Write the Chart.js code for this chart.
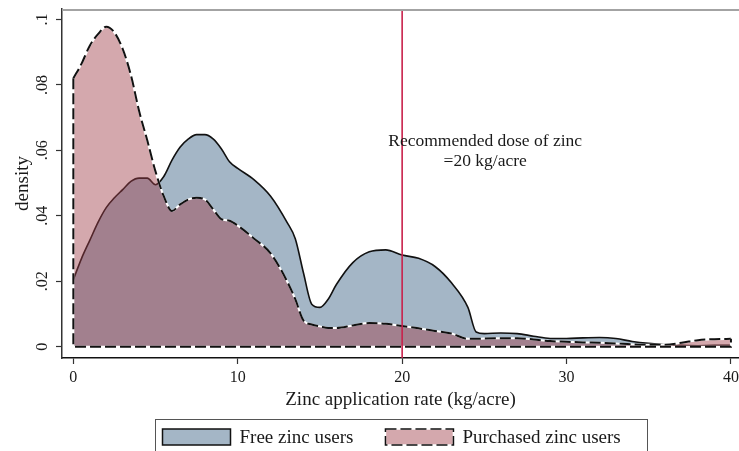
<!DOCTYPE html>
<html>
<head>
<meta charset="utf-8">
<script src="https://cdn.jsdelivr.net/npm/chart.js@4.4.1/dist/chart.umd.min.js"></script>
<style>
  html, body { margin: 0; padding: 0; background: #fff; }
</style>
</head>
<body>
<canvas id="densityChart" width="739" height="451"></canvas>
<script>
// zinc application rate (kg/acre) where the densities were read
const zincRate = [0, 0.5, 1, 1.5, 2, 2.5, 3, 3.5, 4, 4.5, 5, 5.5, 6, 6.5, 7, 7.5, 8, 8.5, 9, 9.5,
  10, 11, 12, 13, 13.5, 14, 14.5, 15, 15.5, 16, 17, 18, 19, 20, 21, 22, 23, 24, 24.5, 25,
  26, 27, 28, 29, 30, 31, 32, 33, 34, 35, 36, 37, 38, 39, 40];

const freeDensity = [0.0205, 0.027, 0.0325, 0.038, 0.0425, 0.0455, 0.048, 0.0505, 0.0515, 0.0515,
  0.0495, 0.052, 0.057, 0.061, 0.0635, 0.0648, 0.0648, 0.0635, 0.0605, 0.0565,
  0.0545, 0.051, 0.046, 0.038, 0.033, 0.0225, 0.013, 0.012, 0.0145, 0.019,
  0.0257, 0.029, 0.0296, 0.028, 0.027, 0.0245, 0.0195, 0.012, 0.0045, 0.004,
  0.0042, 0.004, 0.0032, 0.0025, 0.0025, 0.0027, 0.0028, 0.0025, 0.0016, 0.001,
  0.0006, 0.0004, 0.0003, 0.0004, 0.0004];

const purchasedDensity = [0.082, 0.0865, 0.092, 0.0955, 0.0978, 0.096, 0.091, 0.083, 0.072, 0.063,
  0.0535, 0.046, 0.0415, 0.0435, 0.045, 0.0455, 0.045, 0.042, 0.039, 0.0385,
  0.037, 0.033, 0.0285, 0.02, 0.0145, 0.008, 0.0068, 0.0062, 0.0057, 0.0057,
  0.0065, 0.0072, 0.007, 0.0063, 0.0056, 0.0048, 0.004, 0.0024, 0.0024, 0.0025,
  0.0026, 0.0026, 0.0022, 0.0017, 0.0015, 0.0013, 0.0012, 0.001, 0.0007, 0.0006,
  0.0006, 0.0012, 0.002, 0.0023, 0.0024];

const seriesNames = ['Free zinc users', 'Purchased zinc users'];
const xTicks = [0, 10, 20, 30, 40];
const yTicks = [0, 0.02, 0.04, 0.06, 0.08, 0.1];
const yTickLabels = ['0', '.02', '.04', '.06', '.08', '.1'];
const recommendedDose = 20;
const doseNote = ['Recommended dose of zinc', '=20 kg/acre'];

// axis ranges (plot region padding like Stata)
const xMin = -0.69, xMax = 40.49;
const yMin = -0.00346, yMax = 0.1032;

const serif = '"Liberation Serif", "Times New Roman", serif';
const blueFill = '#a4b6c6';
const pinkFill = 'rgba(160, 62, 74, 0.45)';
const doseColor = '#c8204b';

const toPoints = (ys) => zincRate.map((x, i) => ({ x: x, y: ys[i] }));
const last = zincRate.length - 1;
// left edge and baseline of the purchased density area
const purchasedEdge = [
  { x: zincRate[0], y: purchasedDensity[0] },
  { x: zincRate[0], y: 0 },
  { x: zincRate[last], y: 0 },
  { x: zincRate[last], y: purchasedDensity[last] }
];

// top border of the plot region
const frameTop = {
  id: 'frameTop',
  afterDraw(chart) {
    const { ctx, chartArea } = chart;
    ctx.save();
    ctx.strokeStyle = '#a3a3a3';
    ctx.lineWidth = 2;
    ctx.beginPath();
    ctx.moveTo(chartArea.left, chartArea.top + 1);
    ctx.lineTo(chartArea.right + 5, chartArea.top + 1);
    ctx.stroke();
    ctx.restore();
  }
};

// text next to the recommended dose line
const doseLabel = {
  id: 'doseLabel',
  afterDatasetsDraw(chart) {
    const { ctx, scales } = chart;
    const cx = scales.x.getPixelForValue(25.05);
    const y1 = scales.y.getPixelForValue(0.0627);
    ctx.save();
    ctx.fillStyle = '#1a1a1a';
    ctx.font = '17.5px ' + serif;
    ctx.textAlign = 'center';
    ctx.textBaseline = 'middle';
    ctx.fillText(doseNote[0], cx, y1);
    ctx.fillText(doseNote[1], cx, y1 + 20);
    ctx.restore();
  }
};

// boxed legend under the axis title
const legendBox = {
  id: 'legendBox',
  afterDraw(chart) {
    const { ctx, chartArea } = chart;
    const boxW = 68, boxH = 16, gap = 9, itemGap = 32;
    const frameW = 492;
    const frameL = Math.round((chartArea.left + chartArea.right) / 2 - frameW / 2) + 0.5;
    const frameTopY = 419.5;
    const midY = 437;
    ctx.save();
    ctx.strokeStyle = '#555';
    ctx.lineWidth = 1;
    ctx.strokeRect(frameL, frameTopY, frameW, 60);

    ctx.font = '19px ' + serif;
    ctx.textBaseline = 'middle';
    let x = frameL + 7;
    seriesNames.forEach((name, i) => {
      const top = midY - boxH / 2;
      ctx.fillStyle = i === 0 ? blueFill : pinkFill;
      ctx.fillRect(x, top, boxW, boxH);
      ctx.lineWidth = 1.5;
      if (i === 1) {
        ctx.strokeStyle = '#fff';
        ctx.setLineDash([]);
        ctx.strokeRect(x, top, boxW, boxH);
        ctx.setLineDash([11, 4]);
      }
      ctx.strokeStyle = '#111';
      ctx.strokeRect(x, top, boxW, boxH);
      ctx.setLineDash([]);
      ctx.fillStyle = '#1a1a1a';
      ctx.fillText(name, x + boxW + gap, midY + 1);
      x += boxW + gap + ctx.measureText(name).width + itemGap;
    });
    ctx.restore();
  }
};

const lineBase = { pointRadius: 0, pointHoverRadius: 0, cubicInterpolationMode: 'monotone' };

new Chart(document.getElementById('densityChart'), {
  type: 'line',
  data: {
    datasets: [
      Object.assign({}, lineBase, {
        label: seriesNames[0],
        data: toPoints(freeDensity),
        backgroundColor: blueFill,
        borderColor: '#111',
        borderWidth: 1.6,
        fill: 'origin',
        order: 10
      }),
      Object.assign({}, lineBase, {
        label: seriesNames[1],
        data: toPoints(purchasedDensity),
        backgroundColor: pinkFill,
        borderColor: '#fff',
        borderWidth: 2,
        fill: 'origin',
        order: 9
      }),
      Object.assign({}, lineBase, {
        label: 'purchased outline',
        data: toPoints(purchasedDensity),
        borderColor: '#111',
        borderWidth: 2,
        borderDash: [11, 4],
        fill: false,
        order: 8
      }),
      {
        label: 'purchased edge under',
        data: purchasedEdge,
        pointRadius: 0,
        borderColor: '#fff',
        borderWidth: 2,
        tension: 0,
        fill: false,
        order: 7
      },
      {
        label: 'purchased edge',
        data: purchasedEdge,
        pointRadius: 0,
        borderColor: '#111',
        borderWidth: 2,
        borderDash: [11, 4],
        tension: 0,
        fill: false,
        order: 6
      },
      {
        label: 'recommended dose',
        data: [{ x: recommendedDose, y: yMin }, { x: recommendedDose, y: yMax }],
        pointRadius: 0,
        borderColor: doseColor,
        borderWidth: 1.6,
        fill: false,
        order: 1
      }
    ]
  },
  options: {
    responsive: false,
    animation: false,
    layout: { padding: { top: 9, right: 0, bottom: 40, left: 0 } },
    plugins: {
      legend: { display: false },
      tooltip: { enabled: false }
    },
    scales: {
      x: {
        type: 'linear',
        min: xMin,
        max: xMax,
        afterBuildTicks: (s) => { s.ticks = xTicks.map((v) => ({ value: v })); },
        afterFit: (s) => { s.height = 53; s.paddingLeft = 0; s.paddingRight = 0; },
        border: { color: '#111', width: 1.5 },
        grid: { drawOnChartArea: false, color: '#333', tickLength: 6, tickWidth: 1.2 },
        ticks: {
          padding: 4,
          maxRotation: 0,
          color: '#1a1a1a',
          font: { family: serif, size: 16 },
          callback: (v) => String(v)
        },
        title: {
          display: true,
          text: 'Zinc application rate (kg/acre)',
          color: '#1a1a1a',
          font: { family: serif, size: 19 },
          padding: 0
        }
      },
      y: {
        type: 'linear',
        min: yMin,
        max: yMax,
        afterBuildTicks: (s) => { s.ticks = yTicks.map((v) => ({ value: v })); },
        afterFit: (s) => { s.width = 62; s.paddingTop = 0; s.paddingBottom = 0; },
        border: { color: '#333', width: 1.5 },
        grid: { drawOnChartArea: false, color: '#333', tickLength: 6, tickWidth: 1.2 },
        ticks: {
          minRotation: 90,
          maxRotation: 90,
          crossAlign: 'center',
          padding: 3,
          color: '#1a1a1a',
          font: { family: serif, size: 16 },
          callback: (v, i) => yTickLabels[i]
        },
        title: {
          display: true,
          text: 'density',
          color: '#1a1a1a',
          font: { family: serif, size: 19 },
          padding: { top: 12, bottom: 0 }
        }
      }
    }
  },
  plugins: [frameTop, doseLabel, legendBox]
});
</script>
</body>
</html>
